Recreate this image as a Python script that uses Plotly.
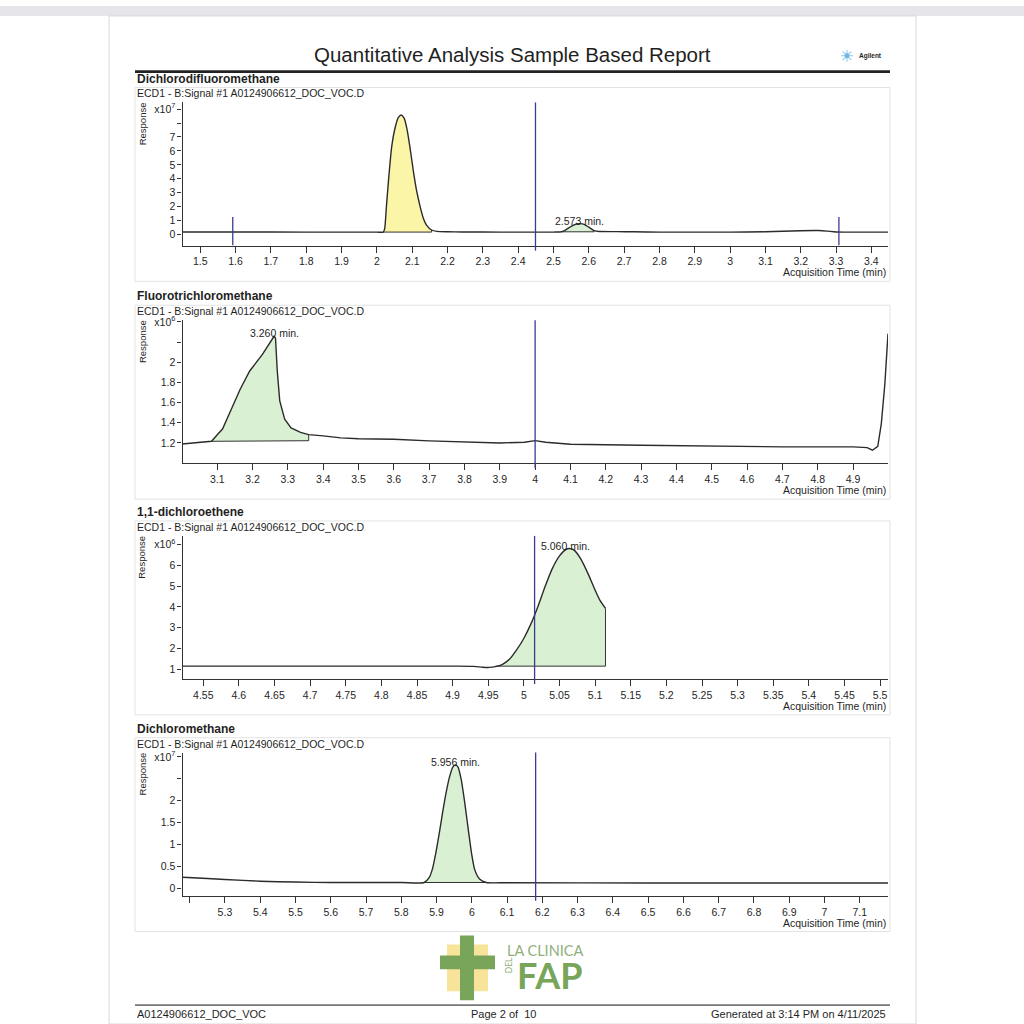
import plotly.graph_objects as go

FONT = "Liberation Sans, Arial, sans-serif"
INK = "#1f1f1f"
RT_BLUE = "#3b3b94"
YELLOW = "#fbf5a8"
GREEN = "#d9f1d2"

report_title = "Quantitative Analysis Sample Based Report"
compounds = ["Dichlorodifluoromethane", "Fluorotrichloromethane", "1,1-dichloroethene", "Dichloromethane"]
signal_file = "ECD1 - B:Signal #1 A0124906612_DOC_VOC.D"

# Dichlorodifluoromethane, response x10^7
t1 = [1.45, 1.6, 1.8, 2.0, 2.018, 2.022, 2.027, 2.033, 2.042, 2.052, 2.061, 2.069, 2.077, 2.085,
      2.094, 2.103, 2.112, 2.122, 2.131, 2.141, 2.155, 2.17, 2.2, 2.24, 2.35, 2.5, 2.523, 2.535,
      2.55, 2.565, 2.575, 2.587, 2.6, 2.615, 2.63, 2.68, 2.726, 2.8, 3.0, 3.1, 3.15, 3.2, 3.25,
      3.275, 3.3, 3.447]
r1 = [0.18, 0.18, 0.17, 0.17, 0.17, 0.4, 2.0, 3.9, 6.3, 7.7, 8.4, 8.58, 8.35, 7.6,
      6.2, 4.6, 3.2, 2.05, 1.2, 0.65, 0.32, 0.22, 0.19, 0.18, 0.17, 0.17, 0.19, 0.33,
      0.58, 0.75, 0.78, 0.73, 0.52, 0.27, 0.21, 0.2, 0.19, 0.17, 0.17, 0.19, 0.23, 0.27, 0.28,
      0.24, 0.18, 0.17]

# Fluorotrichloromethane, response x10^6
t2 = [3.0, 3.04, 3.084, 3.102, 3.115, 3.138, 3.165, 3.192, 3.228, 3.261, 3.265, 3.27, 3.277,
      3.291, 3.309, 3.336, 3.359, 3.4, 3.45, 3.5, 3.6, 3.7, 3.8, 3.9, 3.97, 4.0, 4.03, 4.1,
      4.3, 4.5, 4.7, 4.9, 4.94, 4.955, 4.97, 4.98, 4.99, 4.999]
r2 = [1.19, 1.2, 1.216, 1.289, 1.338, 1.519, 1.732, 1.913, 2.077, 2.257, 2.24, 1.913, 1.617,
      1.436, 1.348, 1.305, 1.282, 1.27, 1.25, 1.242, 1.236, 1.22, 1.21, 1.2, 1.207, 1.223, 1.207, 1.187,
      1.177, 1.167, 1.161, 1.161, 1.154, 1.128, 1.167, 1.389, 1.779, 2.283]

# 1,1-dichloroethene, response x10^6
t3 = [4.521, 4.7, 4.9, 4.93, 4.942, 4.951, 4.96, 4.97, 4.98, 4.99, 5.0, 5.01, 5.02, 5.03,
      5.04, 5.05, 5.06, 5.065, 5.07, 5.08, 5.09, 5.1, 5.107, 5.1145]
r3 = [1.16, 1.16, 1.16, 1.15, 1.11, 1.1, 1.14, 1.25, 1.5, 1.95, 2.5, 3.2, 4.05, 5.0,
      5.85, 6.45, 6.78, 6.8, 6.74, 6.3, 5.6, 4.8, 4.3, 3.93]

# Dichloromethane, response x10^7
t4 = [5.18, 5.25, 5.3, 5.4, 5.5, 5.6, 5.8, 5.865, 5.879, 5.888, 5.898, 5.908, 5.917, 5.927,
      5.937, 5.946, 5.954, 5.961, 5.97, 5.98, 5.99, 5.999, 6.008, 6.022, 6.041, 6.1, 6.5, 7.0, 7.18]
r4 = [0.25, 0.22, 0.2, 0.16, 0.14, 0.13, 0.13, 0.13, 0.24, 0.43, 0.81, 1.27, 1.72, 2.18,
      2.55, 2.77, 2.82, 2.77, 2.48, 1.95, 1.34, 0.81, 0.43, 0.21, 0.13, 0.125, 0.12, 0.12, 0.12]

# integrated areas: start, end, baseline at start, baseline at end, colour
areas1 = [(2.018, 2.155, 0.17, 0.17, YELLOW), (2.523, 2.615, 0.19, 0.19, GREEN)]
areas2 = [(3.084, 3.359, 1.216, 1.222, GREEN)]
areas3 = [(4.96, 5.1145, 1.16, 1.16, GREEN)]
areas4 = [(5.865, 6.041, 0.13, 0.13, GREEN)]

peaks1 = [(2.573, 0.78, "2.573 min.")]
peaks2 = [(3.262, 2.257, "3.260 min.")]
peaks3 = [(5.058, 6.8, "5.060 min.")]
peaks4 = [(5.954, 2.82, "5.956 min.")]

rt_lines = [2.449, 4.0, 5.015, 6.181]
window_lines1 = [1.592, 3.308]

x_ranges = [[1.45, 3.447], [3.002, 4.999], [4.521, 5.511], [5.18, 7.18]]
x_ticks4 = [5.2, 5.3, 5.4, 5.5, 5.6, 5.7, 5.8, 5.9, 6.0, 6.1, 6.2, 6.3, 6.4, 6.5, 6.6, 6.7, 6.8, 6.9, 7.0, 7.1]
x_labels4 = ["", "5.3", "5.4", "5.5", "5.6", "5.7", "5.8", "5.9", "6", "6.1", "6.2", "6.3", "6.4",
             "6.5", "6.6", "6.7", "6.8", "6.9", "7", "7.1"]
y_ranges = [[-0.8, 9.48], [0.998, 2.417], [0.542, 7.41], [-0.173, 3.10]]
y_ticks = [[0, 1, 2, 3, 4, 5, 6, 7, 8, 9], [1.2, 1.4, 1.6, 1.8, 2.0, 2.2, 2.4],
           [1, 2, 3, 4, 5, 6, 7], [0, 0.5, 1, 1.5, 2, 2.5, 3]]
y_labels = [["0", "1", "2", "3", "4", "5", "6", "7", "", "x10<sup>7</sup>"],
            ["1.2", "1.4", "1.6", "1.8", "2", "", "x10<sup>6</sup>"],
            ["1", "2", "3", "4", "5", "6", "x10<sup>6</sup>"],
            ["0", "0.5", "1", "1.5", "2", "", "x10<sup>7</sup>"]]

panels = [
    dict(t=t1, r=r1, shape="spline", areas=areas1, peaks=peaks1),
    dict(t=t2, r=r2, shape="linear", areas=areas2, peaks=peaks2),
    dict(t=t3, r=r3, shape="spline", areas=areas3, peaks=peaks3),
    dict(t=t4, r=r4, shape="spline", areas=areas4, peaks=peaks4),
]

tops = [97, 316, 533, 751]
plot_h = 144
x_left, x_right = 182.6, 888


def px(x):
    return x / 1024


def py(y):
    return 1 - y / 1024


fig = go.Figure()
annotations = []
shapes = []


def text(x, y, s, size, anchor="left", **kw):
    annotations.append(dict(x=px(x), y=py(y), xref="paper", yref="paper", text=s, showarrow=False,
                            xanchor=anchor, yanchor="middle", font=dict(family=FONT, size=size, color=INK), **kw))


def rect(x0, y0, x1, y1, fill, line="rgba(0,0,0,0)", width=1):
    shapes.append(dict(type="rect", xref="paper", yref="paper", x0=px(x0), x1=px(x1), y0=py(y0), y1=py(y1),
                       fillcolor=fill, line=dict(color=line, width=width), layer="below"))


def seg(x0, y0, x1, y1, color, width):
    shapes.append(dict(type="line", xref="paper", yref="paper", x0=px(x0), x1=px(x1), y0=py(y0), y1=py(y1),
                       line=dict(color=color, width=width)))


# page
rect(0, 0, 1024, 10, "#e6e6ea")
rect(109, 10, 916, 1024, "white", "#d9d9d9", 1)
text(512, 49, report_title, 20.5, "center")
seg(135, 66, 890, 66, "#222222", 2.6)
# Agilent spark
for dx, dy in [(6, 0), (0, 6), (4.3, 4.3), (4.3, -4.3)]:
    seg(847 - dx, 50 - dy, 847 + dx, 50 + dy, "#9fd0ef", 1.2)
shapes.append(dict(type="circle", xref="paper", yref="paper", x0=px(844.5), x1=px(849.5), y0=py(52.5), y1=py(47.5),
                   fillcolor="#6fb6e4", line=dict(width=0)))
text(857, 50, "<b>Agilent</b>", 6.5)

for i, p in enumerate(panels):
    n = "" if i == 0 else str(i + 1)
    top = tops[i]
    bottom = top + plot_h
    xa, ya = "x" + n, "y" + n

    rect(135, top - 15, 890, top + 180, "white", "#e3e3e3", 1)
    text(135, top - 24, "<b>" + compounds[i] + "</b>", 12)
    text(135, top - 9, signal_file, 10.5)
    text(142, top + 22, "Response", 9.5, "center", textangle=-90)
    text(888, bottom + 27, "Acquisition Time (min)", 10.5, "right")

    xaxis = dict(domain=[px(x_left), px(x_right)], range=x_ranges[i], anchor=ya,
                 showline=True, linecolor="#333", linewidth=1.3, ticks="outside", ticklen=6,
                 tickcolor="#333", tickfont=dict(family=FONT, size=10.5, color=INK),
                 showgrid=False, zeroline=False)
    if i == 3:
        xaxis.update(tickmode="array", tickvals=x_ticks4, ticktext=x_labels4)
    else:
        xaxis.update(dtick=0.05 if i == 2 else 0.1, tick0=0)
    yaxis = dict(domain=[py(bottom), py(top)], range=y_ranges[i], anchor=xa,
                 showline=True, linecolor="#333", linewidth=1.3, ticks="outside", ticklen=4,
                 tickcolor="#333", tickfont=dict(family=FONT, size=10.5, color=INK),
                 tickmode="array", tickvals=y_ticks[i], ticktext=y_labels[i],
                 showgrid=False, zeroline=False)
    fig.update_layout(**{"xaxis" + n: xaxis, "yaxis" + n: yaxis})

    t, r = p["t"], p["r"]
    for start, end, b0, b1, colour in p["areas"]:
        a, b = t.index(start), t.index(end)
        fig.add_trace(go.Scatter(x=[start, end, end], y=[b0, b1, r[b]], xaxis=xa, yaxis=ya, mode="lines",
                                 line=dict(color="#333", width=1), hoverinfo="skip"))
        fig.add_trace(go.Scatter(x=t[a:b + 1], y=r[a:b + 1], xaxis=xa, yaxis=ya, mode="lines",
                                 line=dict(width=0, shape=p["shape"], smoothing=0.6),
                                 fill="tonexty", fillcolor=colour, hoverinfo="skip"))
    fig.add_trace(go.Scatter(x=t, y=r, xaxis=xa, yaxis=ya, mode="lines",
                             line=dict(color="#2b2b2b", width=1.4, shape=p["shape"], smoothing=0.6)))

    for x, y, s in p["peaks"]:
        annotations.append(dict(x=x, y=y, xref=xa, yref=ya, text=s, showarrow=False, yanchor="middle",
                                yshift=3, font=dict(family=FONT, size=10.5, color=INK)))

    shapes.append(dict(type="line", xref=xa, yref=ya + " domain", x0=rt_lines[i], x1=rt_lines[i],
                       y0=-0.035, y1=1, line=dict(color=RT_BLUE, width=1.3)))
    if i == 0:
        for w in window_lines1:
            shapes.append(dict(type="line", xref=xa, yref=ya, x0=w, x1=w, y0=y_ranges[0][0], y1=1.25,
                               line=dict(color=RT_BLUE, width=1.3)))

# logo
rect(447, 944, 488, 991, "#f8e39a")
rect(460, 935, 474, 1000, "#78a559")
rect(440, 955, 495, 969, "#78a559")
annotations.append(dict(x=px(505), y=py(950), xref="paper", yref="paper", text="LA CLINICA", showarrow=False,
                        xanchor="left", yanchor="middle", font=dict(family="Lato", size=14.5, color="#8fb07a")))
annotations.append(dict(x=px(509), y=py(975), xref="paper", yref="paper", text="DEL", showarrow=False,
                        textangle=-90, font=dict(family="Lato", size=8.5, color="#8fb07a")))
annotations.append(dict(x=px(515), y=py(975), xref="paper", yref="paper", text="<b>FAP</b>", showarrow=False,
                        xanchor="left", yanchor="middle", font=dict(family="Lato", size=36, color="#78a559")))

# footer
seg(135, 1005, 890, 1005, "#777777", 1.6)
text(135, 1014, "A0124906612_DOC_VOC", 11)
text(503, 1014, "Page 2 of  10", 11, "center")
text(888, 1014, "Generated at 3:14 PM on 4/11/2025", 11, "right")

fig.update_layout(width=1024, height=1024, margin=dict(l=0, r=0, t=0, b=0), showlegend=False,
                  paper_bgcolor="white", plot_bgcolor="rgba(0,0,0,0)",
                  annotations=annotations, shapes=shapes)
fig.write_html("out.html", config={"displayModeBar": False},
               post_script="document.body.style.margin='0';document.body.style.padding='0';"
                           "var gd=document.getElementById('{plot_id}');"
                           "gd.style.position='absolute';gd.style.top='0px';gd.style.left='0px';")
